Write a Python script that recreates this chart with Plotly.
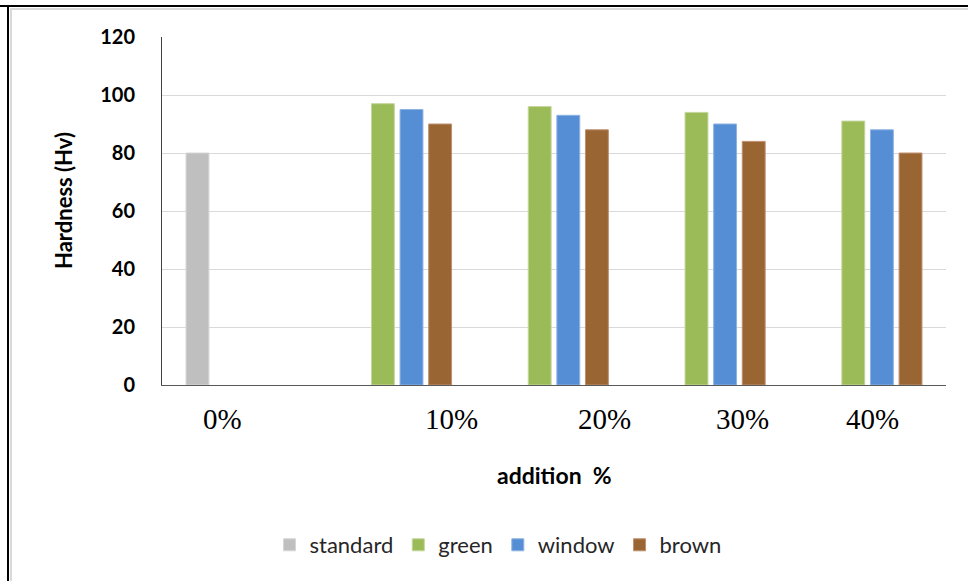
import plotly.graph_objects as go

# Hardness of samples by addition level
categories = ["0%", "10%", "20%", "30%", "40%"]
standard_x = ["0%"]
standard_vals = [80]
addition_x = ["10%", "20%", "30%", "40%"]
green_vals = [97, 96, 94, 91]
window_vals = [95, 93, 90, 88]
brown_vals = [90, 88, 84, 80]
y_ticks = [0, 20, 40, 60, 80, 100, 120]

colors = {"standard": "#bfbfbf", "green": "#9bbb59", "window": "#558ed5", "brown": "#996633"}
edges = {"standard": "#d6d6d6", "green": "#c3d69b", "window": "#8db3e2", "brown": "#c09070"}

fig = go.Figure()
series = [
    ("standard", standard_x, standard_vals),
    ("green", addition_x, green_vals),
    ("window", addition_x, window_vals),
    ("brown", addition_x, brown_vals),
]
for name, xs, ys in series:
    fig.add_trace(go.Bar(
        name=name, x=xs, y=ys,
        marker=dict(color=colors[name], line=dict(color=edges[name], width=1)),
    ))

W, H = 968, 581
L, R, T, B = 162, 22, 37, 196
pw, ph = W - L - R, H - T - B

def px_x(p):
    return (p - L) / pw

def px_y(p):
    return (H - B - p) / ph

# category labels drawn below the axis, each nudged sideways
label_shift = [-18, 54, 50, 32, 5]
annotations = [
    dict(x=c, y=px_y(419), xref="x", yref="paper", text=c, showarrow=False,
         xshift=s, font=dict(family="Liberation Serif", size=29, color="#000000"),
         xanchor="center", yanchor="middle")
    for c, s in zip(categories, label_shift)
]
annotations.append(dict(
    x=px_x(554), y=px_y(475), xref="paper", yref="paper", text="addition  %",
    showarrow=False, font=dict(family="Lato", size=23, color="#000000", weight="bold"),
    xanchor="center", yanchor="middle"))
annotations.append(dict(
    x=px_x(63), y=px_y(201), xref="paper", yref="paper", text="Hardness (Hv)",
    showarrow=False, textangle=-90,
    font=dict(family="Lato", size=22, color="#000000", weight="bold"),
    xanchor="center", yanchor="middle"))

# frame: dark outer edge with a pale inner edge on top and left
shapes = [
    dict(type="line", xref="paper", yref="paper", x0=px_x(0), x1=px_x(W), y0=px_y(6), y1=px_y(6),
         line=dict(color="#000000", width=2)),
    dict(type="line", xref="paper", yref="paper", x0=px_x(8), x1=px_x(8), y0=px_y(6), y1=px_y(H),
         line=dict(color="#000000", width=2)),
    dict(type="line", xref="paper", yref="paper", x0=px_x(10), x1=px_x(W), y0=px_y(9), y1=px_y(9),
         line=dict(color="#d9d9d9", width=2)),
    dict(type="line", xref="paper", yref="paper", x0=px_x(11), x1=px_x(11), y0=px_y(9), y1=px_y(H),
         line=dict(color="#d9d9d9", width=2)),
]

fig.update_layout(
    width=W, height=H,
    margin=dict(l=L, r=R, t=T, b=B),
    paper_bgcolor="#ffffff", plot_bgcolor="#ffffff",
    barmode="group", bargap=0.27, bargroupgap=0.2,
    showlegend=True,
    legend=dict(orientation="h", x=px_x(498), xanchor="center", y=px_y(545), yanchor="middle",
                font=dict(family="Lato", size=22, color="#262626"),
                itemwidth=30, traceorder="normal"),
    annotations=annotations,
    shapes=shapes,
    xaxis=dict(type="category", categoryorder="array", categoryarray=categories,
               range=[-0.5, 4.5], showticklabels=False, showgrid=False,
               showline=True, linecolor="#595959", linewidth=1, ticks=""),
    yaxis=dict(range=[0, 120], tickvals=y_ticks, showgrid=True, gridcolor="#d9d9d9",
               gridwidth=1, showline=True, linecolor="#404040", linewidth=1, zeroline=False,
               ticks="", ticklabelstandoff=22,
               tickfont=dict(family="Lato", size=20, color="#000000", weight="bold")),
)

fig.write_html("out.html")
